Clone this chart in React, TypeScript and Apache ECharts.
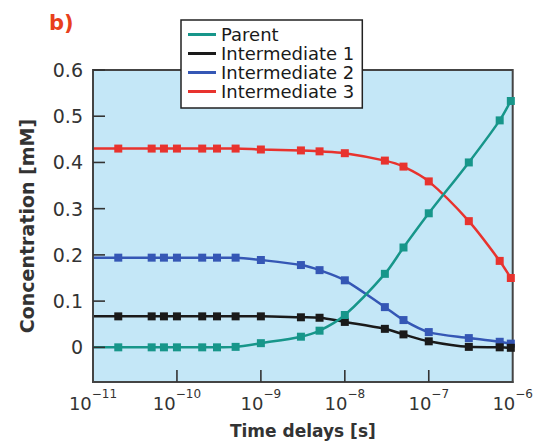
import React, { useEffect, useRef } from "react";
import * as echarts from "echarts";

const times = [2e-11, 5e-11, 7e-11, 1e-10, 2e-10, 3e-10, 5e-10, 1e-9, 3e-9, 5e-9, 1e-8, 3e-8, 5e-8, 1e-7, 3e-7, 7e-7, 9.5e-7];
const parent = [0, 0, 0, 0, 0, 0, 0.001, 0.009, 0.023, 0.036, 0.07, 0.159, 0.216, 0.29, 0.4, 0.491, 0.533];
const inter1 = [0.067, 0.067, 0.067, 0.067, 0.067, 0.067, 0.067, 0.067, 0.065, 0.064, 0.055, 0.04, 0.028, 0.013, 0.001, 0, -0.001];
const inter2 = [0.194, 0.194, 0.194, 0.194, 0.194, 0.194, 0.194, 0.189, 0.178, 0.167, 0.145, 0.087, 0.059, 0.033, 0.02, 0.012, 0.008];
const inter3 = [0.43, 0.43, 0.43, 0.43, 0.43, 0.43, 0.43, 0.428, 0.426, 0.424, 0.42, 0.404, 0.391, 0.359, 0.273, 0.187, 0.15];
// curve values at the plot edges (10^-11 and 10^-6)
const startEnd = {
  parent: [0, 0.54],
  inter1: [0.067, -0.001],
  inter2: [0.194, 0.0075],
  inter3: [0.43, 0.143],
};
const seriesNames = ["Parent", "Intermediate 1", "Intermediate 2", "Intermediate 3"];
const colors = ["#17968a", "#1a1a1a", "#3557b5", "#e8332e"];
const yTicks = [0, 0.1, 0.2, 0.3, 0.4, 0.5, 0.6];
const xTicks = [1e-10, 1e-9, 1e-8, 1e-7];
const xMin = 1e-11;
const xMax = 1e-6;
const yMin = -0.075;
const yMax = 0.6;

const FONT = "DejaVu Sans";
const TICK_LEN = 12;

function buildData(vals: number[], se: number[]) {
  const d: any[] = [{ value: [xMin, se[0]], symbol: "none" }];
  times.forEach((t, i) => d.push([t, vals[i]]));
  d.push({ value: [xMax, se[1]], symbol: "none" });
  return d;
}

export default function App() {
  const ref = useRef<HTMLDivElement>(null);
  useEffect(() => {
    if (!ref.current) return;
    const chart = echarts.init(ref.current, undefined, { renderer: "svg" });
    const all = [
      buildData(parent, startEnd.parent),
      buildData(inter1, startEnd.inter1),
      buildData(inter2, startEnd.inter2),
      buildData(inter3, startEnd.inter3),
    ];
    const tickStyle = { stroke: "#333", lineWidth: 1.6 };
    chart.setOption({
      animation: false,
      textStyle: { fontFamily: FONT },
      grid: {
        left: 93,
        right: 23,
        top: 70,
        bottom: 66,
        show: true,
        backgroundColor: "#c4e7f7",
        borderColor: "#444",
        borderWidth: 2,
      },
      graphic: [
        {
          type: "text",
          left: 49,
          top: 12,
          style: { text: "b)", fontFamily: FONT, fontWeight: "bold", fontSize: 21, fill: "#e8401c" },
        },
      ],
      legend: {
        orient: "vertical",
        left: 181,
        top: 20,
        padding: [5, 8, 7, 7],
        itemGap: 0,
        itemWidth: 28,
        itemHeight: 3,
        icon: "rect",
        backgroundColor: "#ffffff",
        borderColor: "#222222",
        borderWidth: 1.5,
        borderRadius: 0,
        textStyle: { fontFamily: FONT, fontSize: 18, color: "#1a1a1a", lineHeight: 19 },
        data: seriesNames,
        z: 20,
      },
      xAxis: {
        type: "log",
        logBase: 10,
        min: xMin,
        max: xMax,
        z: 10,
        name: "Time delays [s]",
        nameLocation: "middle",
        nameGap: 40,
        nameTextStyle: { fontFamily: FONT, fontWeight: "bold", fontSize: 17, color: "#333" },
        axisLine: { show: true, onZero: false, lineStyle: { color: "#444", width: 2 } },
        axisTick: { show: false },
        splitLine: { show: false },
        axisLabel: {
          margin: 6,
          formatter: (v: number) => {
            const e = Math.round(Math.log10(v));
            return "{b|10}{s|\u2212" + Math.abs(e) + "}";
          },
          rich: {
            b: { fontFamily: FONT, fontSize: 18, color: "#333", lineHeight: 24, verticalAlign: "bottom" },
            s: { fontFamily: FONT, fontSize: 12, color: "#333", lineHeight: 14, verticalAlign: "top" },
          },
        },
      },
      yAxis: {
        type: "value",
        min: yMin,
        max: yMax,
        z: 10,
        name: "Concentration [mM]",
        nameLocation: "middle",
        nameGap: 57,
        nameTextStyle: { fontFamily: FONT, fontWeight: "bold", fontSize: 19, color: "#333" },
        axisLine: { show: true, onZero: false, lineStyle: { color: "#444", width: 2 } },
        axisTick: { show: false },
        splitLine: { show: false },
        axisLabel: {
          margin: 10,
          customValues: yTicks,
          fontFamily: FONT,
          fontSize: 19,
          color: "#333",
          formatter: (v: number) => (Math.abs(v) < 1e-9 ? "0" : v.toFixed(1)),
        },
      },
      series: [
        ...all.map((d, i) => ({
          name: seriesNames[i],
          type: "line",
          data: d,
          smooth: 0.3,
          symbol: "rect",
          symbolSize: 8,
          showAllSymbol: true,
          clip: true,
          lineStyle: { color: colors[i], width: 2.5 },
          itemStyle: { color: colors[i] },
          z: 2 + (3 - i),
        })),
        {
          type: "custom",
          z: 12,
          silent: true,
          clip: false,
          data: xTicks.map((t) => [t, yMin]),
          renderItem: (params: any, api: any) => {
            const p = api.coord([api.value(0), api.value(1)]);
            return {
              type: "line",
              shape: { x1: p[0], y1: p[1], x2: p[0], y2: p[1] - TICK_LEN },
              style: tickStyle,
            };
          },
        },
        {
          type: "custom",
          z: 12,
          silent: true,
          clip: false,
          data: yTicks.map((v) => [xMin, v]),
          renderItem: (params: any, api: any) => {
            const p = api.coord([api.value(0), api.value(1)]);
            return {
              type: "line",
              shape: { x1: p[0], y1: p[1], x2: p[0] + TICK_LEN, y2: p[1] },
              style: tickStyle,
            };
          },
        },
      ],
    });
    return () => chart.dispose();
  }, []);
  return <div ref={ref} style={{ position: "absolute", left: 0, top: 0, width: 536, height: 448 }} />;
}
